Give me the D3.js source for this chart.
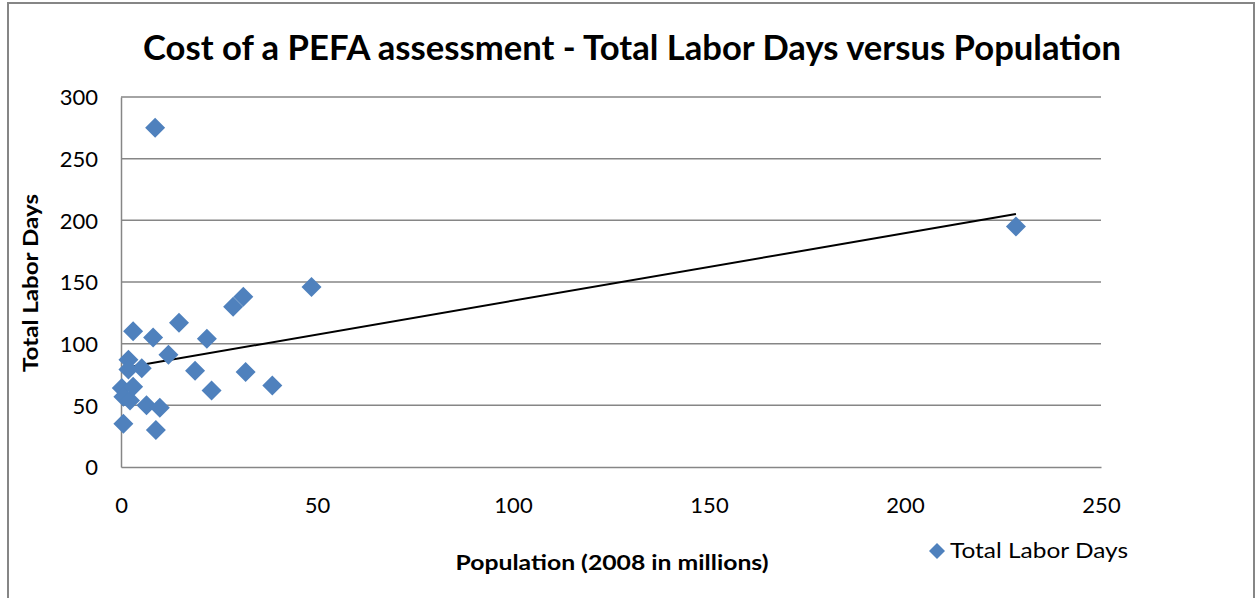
<!DOCTYPE html>
<html>
<head>
<meta charset="utf-8">
<script src="https://cdn.jsdelivr.net/npm/d3@7/dist/d3.min.js"></script>
<style>
  html, body { margin: 0; padding: 0; background: #fff; }
  svg { display: block; font-family: Lato, "Open Sans", sans-serif; }
</style>
</head>
<body>
<svg id="chart" width="1256" height="598"></svg>
<script>
// ---- data ----
const population = [0.2, 0.6, 0.6, 1.9, 1.9, 2.3, 3.1, 3.1, 5.3, 6.5, 8.2, 8.7, 8.9, 9.9, 12.1, 14.8, 18.9, 21.9, 23.1, 28.6, 31.2, 31.8, 38.6, 48.6, 228.3];
const laborDays  = [64, 57, 35, 87, 79, 54, 65, 110, 80, 50, 105, 275, 30, 48, 91, 117, 78, 104, 62, 130, 138, 77, 66, 146, 195];
const xTicks = [0, 50, 100, 150, 200, 250];
const yTicks = [0, 50, 100, 150, 200, 250, 300];
const trendCoef = { intercept: 80, slope: 0.548 };
const titleText = "Cost of a PEFA assessment  - Total Labor Days versus Population";
const xLabel = "Population (2008 in millions)";
const yLabel = "Total Labor Days";
const seriesName = "Total Labor Days";

// ---- layout ----
const svg = d3.select("#chart");
const plot = { left: 121, right: 1101, top: 97, bottom: 467 };
const grey = "#868686";
const blue = "#4F81BD";

// outer chart border
svg.append("rect")
  .attr("x", 8).attr("y", 3).attr("width", 1246).attr("height", 610)
  .attr("fill", "#fff").attr("stroke", grey).attr("stroke-width", 2);

const x = d3.scaleLinear().domain([0, 250]).range([plot.left, plot.right]);
const y = d3.scaleLinear().domain([0, 300]).range([plot.bottom, plot.top]);

// gridlines
svg.append("g").selectAll("line").data(yTicks.filter(d => d > 0)).join("line")
  .attr("x1", plot.left).attr("x2", plot.right)
  .attr("y1", d => y(d)).attr("y2", d => y(d))
  .attr("stroke", grey).attr("stroke-width", 1.5);

// axes
const xAxis = svg.append("g").attr("transform", `translate(0,${plot.bottom})`)
  .call(d3.axisBottom(x).tickValues(xTicks).tickSize(0).tickPadding(32).tickFormat(d3.format("d")));
const yAxis = svg.append("g").attr("transform", `translate(${plot.left},0)`)
  .call(d3.axisLeft(y).tickValues(yTicks).tickSize(0).tickPadding(23).tickFormat(d3.format("d")));
[xAxis, yAxis].forEach(a => {
  a.select(".domain").attr("stroke", grey).attr("stroke-width", 1.5);
  a.selectAll("text").attr("font-size", 22).attr("fill", "#000")
    .attr("font-family", "Lato, 'Open Sans', sans-serif");
});
yAxis.selectAll("text").attr("dy", "0.36em");
xAxis.selectAll("text").attr("dy", "0.62em");

// trendline
const tx0 = d3.min(population), tx1 = d3.max(population);
svg.append("line")
  .attr("x1", x(tx0)).attr("y1", y(trendCoef.intercept + trendCoef.slope * tx0))
  .attr("x2", x(tx1)).attr("y2", y(trendCoef.intercept + trendCoef.slope * tx1))
  .attr("stroke", "#000").attr("stroke-width", 2);

// diamonds
const diamond = r => `M0,${-r}L${r},0L0,${r}L${-r},0Z`;
svg.append("g").selectAll("path").data(population.map((p, i) => [p, laborDays[i]])).join("path")
  .attr("d", diamond(10))
  .attr("transform", d => `translate(${x(d[0])},${y(d[1])})`)
  .attr("fill", blue);

// title
svg.append("text")
  .attr("x", 632).attr("y", 60).attr("text-anchor", "middle")
  .attr("font-size", 35).attr("font-weight", "bold")
  .attr("textLength", 978).attr("lengthAdjust", "spacingAndGlyphs")
  .text(titleText);

// axis titles
svg.append("text")
  .attr("x", 612).attr("y", 570).attr("text-anchor", "middle")
  .attr("font-size", 21).attr("font-weight", "bold")
  .attr("textLength", 313).attr("lengthAdjust", "spacingAndGlyphs")
  .text(xLabel);
svg.append("text")
  .attr("transform", "translate(38,283) rotate(-90)")
  .attr("text-anchor", "middle")
  .attr("font-size", 21).attr("font-weight", "bold")
  .attr("textLength", 178).attr("lengthAdjust", "spacingAndGlyphs")
  .text(yLabel);

// legend
svg.append("path").attr("d", diamond(8)).attr("transform", "translate(937,551)").attr("fill", blue);
svg.append("text").attr("x", 950).attr("y", 558).attr("font-size", 22)
  .attr("textLength", 178).attr("lengthAdjust", "spacingAndGlyphs")
  .text(seriesName);
</script>
</body>
</html>
